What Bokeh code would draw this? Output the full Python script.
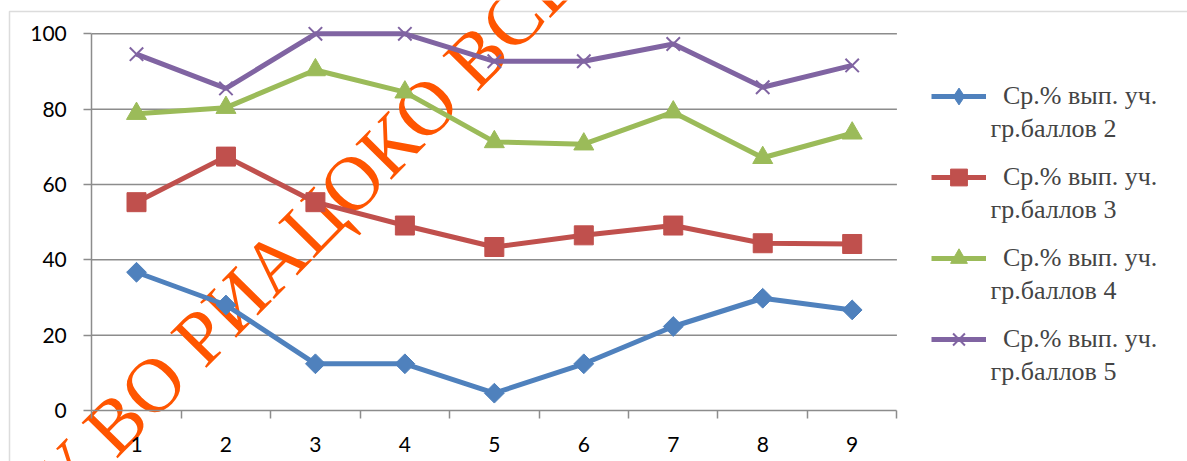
import math
from bokeh.plotting import figure
from bokeh.models import (Range1d, FixedTicker, Legend, LegendItem, Label,
                          BoxAnnotation, LinearAxis)
from bokeh.embed import file_html
from bokeh.resources import INLINE

# ---- data ----
x_vals = [1, 2, 3, 4, 5, 6, 7, 8, 9]
grp2 = [36.7, 28.0, 12.4, 12.4, 4.6, 12.4, 22.3, 29.8, 26.7]
grp3 = [55.3, 67.4, 55.3, 49.1, 43.4, 46.5, 49.1, 44.4, 44.2]
grp4 = [78.8, 80.4, 90.4, 84.5, 71.3, 70.7, 79.2, 67.1, 73.6]
grp5 = [94.6, 85.5, 100.0, 100.0, 92.7, 92.7, 97.3, 85.8, 91.6]
y_ticks = [0, 20, 40, 60, 80, 100]
x_ticks = [1, 2, 3, 4, 5, 6, 7, 8, 9]
x_bounds = [0.5, 1.5, 2.5, 3.5, 4.5, 5.5, 6.5, 7.5, 8.5, 9.5]
legend_first = "Ср.% вып. уч."
legend_second = ["гр.баллов 2", "гр.баллов 3", "гр.баллов 4", "гр.баллов 5"]
wm_main = "ВО РИАЦОКО ВСЕ ПРАВА"
wm_pre = "ГБУ"

colors = ["#4F81BD", "#C0504D", "#9BBB59", "#8064A2"]
GRID = "#8c8c8c"
TICK_FONT = "Lato"
LEG_FONT = "Liberation Serif"

# ---- geometry (pixels) ----
W, H = 1187, 461
cat_px = 89.46          # pixels per category
cat1_px = 136.0         # x pixel of category 1
unit_px = 3.767         # pixels per y unit
zero_px = 410.0         # y pixel of value 0

x_start = 1 - cat1_px / cat_px
x_end = x_start + W / cat_px
y_start = -(H - zero_px) / unit_px
y_end = y_start + H / unit_px

p = figure(width=W, height=H, output_backend="svg", toolbar_location=None,
           x_range=Range1d(x_start, x_end), y_range=Range1d(y_start, y_end),
           x_axis_location=None, y_axis_location=None, min_border=0)
p.outline_line_color = None
p.background_fill_color = "white"
p.border_fill_color = "white"
p.xgrid.grid_line_color = None
p.ygrid.grid_line_color = None

# outer chart border
p.add_layout(BoxAnnotation(left=x_start + 9 / cat_px, right=x_end + 2,
                           top=y_end - 11 / unit_px, bottom=y_start - 5,
                           fill_alpha=0, line_color=GRID, line_width=1.5,
                           level="image"))

# horizontal grid lines
gy = y_ticks[1:]
p.segment(x0=[x_bounds[0]] * len(gy), x1=[x_bounds[-1]] * len(gy), y0=gy, y1=gy,
          line_color=GRID, line_width=1.5, level="image")

# axes drawn at fixed data locations
xax = LinearAxis(fixed_location=0, bounds=(x_bounds[0], x_bounds[-1]),
                 ticker=FixedTicker(ticks=x_ticks, minor_ticks=x_bounds))
yax = LinearAxis(fixed_location=x_bounds[0], bounds=(y_ticks[0], y_ticks[-1]),
                 ticker=FixedTicker(ticks=y_ticks, minor_ticks=[]))
for ax in (xax, yax):
    ax.axis_line_color = GRID
    ax.axis_line_width = 1.5
    ax.major_label_text_font = TICK_FONT
    ax.major_label_text_font_size = "21px"
    ax.major_label_text_color = "black"
xax.major_tick_line_color = None
xax.major_tick_out = 8
xax.major_tick_in = 0
xax.minor_tick_line_color = GRID
xax.minor_tick_line_width = 1.5
xax.minor_tick_out = 8
xax.minor_tick_in = 0
xax.major_label_standoff = 18
yax.major_tick_line_color = GRID
yax.major_tick_line_width = 1.5
yax.major_tick_out = 8
yax.major_tick_in = 0
yax.minor_tick_line_color = None
yax.major_label_standoff = 17
p.add_layout(xax, "below")
p.add_layout(yax, "left")

# watermark (behind the series)
wm_size = 77
ang = 45.5
wx, wy = 97, H - 441
wm = Label(x=wx, y=wy, x_units="screen", y_units="screen", text=wm_main,
           angle=ang, angle_units="deg", text_font="Liberation Serif",
           text_font_size=f"{wm_size}px", text_color="#FF5500",
           text_baseline="alphabetic", text_align="left", level="underlay")
p.add_layout(wm)
sp = 0.25 * wm_size
wm2 = Label(x=wx - sp * math.cos(math.radians(ang)), y=wy - sp * math.sin(math.radians(ang)),
            x_units="screen", y_units="screen", text=wm_pre,
            angle=ang, angle_units="deg", text_font="Liberation Serif",
            text_font_size=f"{wm_size}px", text_color="#FF5500",
            text_baseline="alphabetic", text_align="right", level="underlay")
p.add_layout(wm2)

series = [grp2, grp3, grp4, grp5]
items = []
for i, (ys, c) in enumerate(zip(series, colors)):
    ln = p.line(x_vals, ys, line_color=c, line_width=5)
    if i == 0:
        mk = p.scatter(x_vals, ys, marker="square", angle=0.785398, size=14,
                       fill_color=c, line_color=c)
        # legend proxy with an upright diamond (legend ignores marker angle)
        lg = p.scatter(x_vals, ys, marker="diamond", size=16, fill_color=c,
                       line_color=c, visible=False)
        items.append(LegendItem(label=legend_first, renderers=[ln, lg]))
        continue
    elif i == 1:
        mk = p.scatter(x_vals, ys, marker="square", size=19, fill_color=c, line_color=c)
    elif i == 2:
        mk = p.scatter(x_vals, ys, marker="triangle", size=20, fill_color=c, line_color=c)
    else:
        mk = p.scatter(x_vals, ys, marker="x", size=19, line_color=c, line_width=2)
    items.append(LegendItem(label=legend_first, renderers=[ln, mk]))

gh = 42
item_step = 81
legend = Legend(items=items, location=(931, int(H - (339 + gh / 2))), glyph_width=55,
                glyph_height=gh, label_height=gh, spacing=item_step - gh,
                padding=0, margin=0, label_standoff=17,
                label_text_font=LEG_FONT, label_text_font_size="26px",
                border_line_color=None, background_fill_alpha=0,
                inactive_fill_alpha=0)
p.add_layout(legend)

for i, t in enumerate(legend_second):
    mid = 97 + 31 + item_step * i
    p.add_layout(Label(x=990, y=H - mid, x_units="screen", y_units="screen",
                       text=t, text_font=LEG_FONT, text_font_size="26px",
                       text_baseline="middle", text_align="left"))

open("out.html", "w").write(file_html(p, INLINE))
